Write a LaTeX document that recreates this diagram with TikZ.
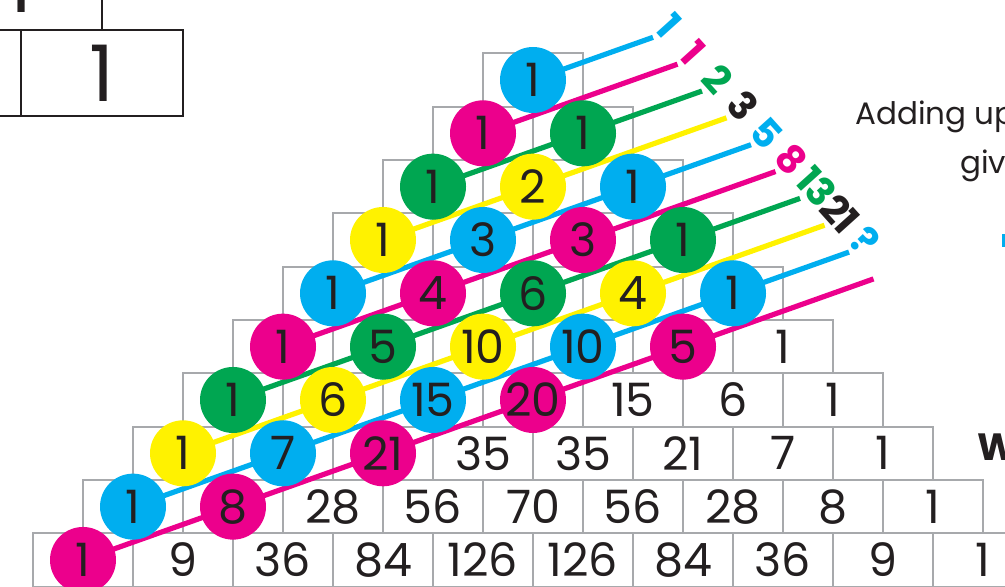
\documentclass[tikz,border=0pt]{standalone}
\usepackage{fontspec}
\setmainfont{Poppins}
\usetikzlibrary{calc}

\definecolor{fibcyan}{HTML}{00AEEF}
\definecolor{fibmagenta}{HTML}{EC008C}
\definecolor{fibgreen}{HTML}{00A651}
\definecolor{fibyellow}{HTML}{FFF200}
\definecolor{ink}{HTML}{231F20}
\definecolor{cellgray}{HTML}{A7A9AC}

\tikzset{
  cell/.style={draw=cellgray, line width=1.1pt, minimum width=50pt, minimum height=26.67pt, inner sep=0pt, text=ink, font=\fontsize{23}{23}\selectfont},
  ball/.style={circle, minimum size=33pt, inner sep=0pt, text=ink, font=\fontsize{23}{23}\selectfont},
  diag/.style={line width=2.6pt},
  fib/.style={font=\bfseries\fontsize{19.5}{19.5}\selectfont\addfontfeatures{Numbers=Proportional,LetterSpace=-4}, inner sep=0pt, anchor=south, rotate=-48},
  tab/.style={draw=ink, line width=1.3pt},
}

\newcommand{\pascalrows}{{1},{1,1},{1,2,1},{1,3,3,1},{1,4,6,4,1},{1,5,10,10,5,1},{1,6,15,20,15,6,1},{1,7,21,35,35,21,7,1},{1,8,28,56,70,56,28,8,1},{1,9,36,84,126,126,84,36,9,1}}

\begin{document}
\begin{tikzpicture}[x=0.5pt, y=-0.5pt]
\useasboundingbox (0,0) rectangle (1005,587);

% Corner of the table above
\draw[tab] (0,30) -- (183,30) -- (183,116) -- (0,116);
\draw[tab] (21,30) -- (21,116);
\draw[tab] (102,0) -- (102,30);
\node[font=\fontsize{39}{39}\selectfont, text=ink] (one-big) at (102,73) {1};
\node[font=\fontsize{39}{39}\selectfont, text=ink, anchor=base] (one-top) at (20,13) {1};

% Pascal cells
\foreach \row [count=\rw from 0] in \pascalrows {
  \foreach \v [count=\cl from 0] in \row {
    \pgfmathtruncatemacro\n{\rw+\cl}
    \ifnum\cl>\rw \def\t{\v}\else\ifnum\n>9 \def\t{\v}\else\def\t{}\fi\fi
    \node[cell] (c-\rw-\cl) at ({533-50*\rw+100*\cl},{80+53.33*\rw}) {\t};
  }
}

% Shallow diagonals
\foreach \n/\col in {0/fibcyan,1/fibmagenta,2/fibgreen,3/fibyellow,4/fibcyan,5/fibmagenta,6/fibgreen,7/fibyellow,8/fibcyan,9/fibmagenta}{
  \pgfmathsetmacro\len{120+74.5*\n}
  \draw[diag, draw=\col] (c-\n-0.center) -- ++(\len,{-0.35553*\len}) coordinate (e-\n);
}

% Sums
\foreach \n/\lab/\col in {0/1/fibcyan,1/1/fibmagenta,2/2/fibgreen,3/3/ink,4/5/fibcyan,5/8/fibmagenta,6/13/fibgreen,7/21/ink,8/?/fibcyan}{
  \node[fib, text=\col] (l-\n) at ($(e-\n)+(5,-1.8)$) {\lab};
}

% Coloured balls
\foreach \row [count=\rw from 0] in \pascalrows {
  \foreach \v [count=\cl from 0] in \row {
    \pgfmathtruncatemacro\n{\rw+\cl}
    \pgfmathtruncatemacro\m{mod(\n,4)}
    \ifnum\cl>\rw\else\ifnum\n>9\else
      \ifcase\m \def\bc{fibcyan}\or\def\bc{fibmagenta}\or\def\bc{fibgreen}\or\def\bc{fibyellow}\fi
      \node[ball, fill=\bc] (b-\rw-\cl) at (c-\rw-\cl) {\v};
    \fi\fi
  }
}

% Text on the right
\node[anchor=base west, inner sep=0pt, text=ink, font=\fontsize{15.5}{15.5}\selectfont] (adding) at (855,125) {Adding up};
\node[anchor=base west, inner sep=0pt, text=ink, font=\fontsize{15.5}{15.5}\selectfont] (giv) at (960,174) {giv};
\node[anchor=base west, inner sep=0pt, text=ink, font=\bfseries\fontsize{19}{19}\selectfont] (w) at (977,460) {W};
\fill[fibcyan] (1002,234) rectangle (1006,247);
\end{tikzpicture}
\end{document}
